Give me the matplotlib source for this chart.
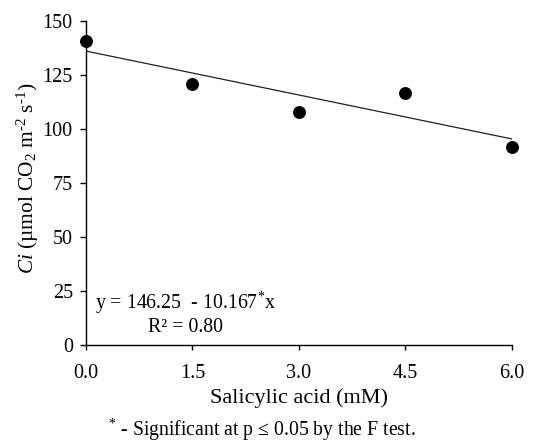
import matplotlib
matplotlib.use("Agg")
import matplotlib.pyplot as plt
import numpy as np

# Salicylic acid doses (mM) and measured internal CO2 concentration
doses = [0.0, 1.5, 3.0, 4.5, 6.0]
ci_values = [140.7, 120.9, 108.0, 116.5, 91.8]

# Linear fit reported against the dose level (1..5)
intercept = 146.25
slope = -10.167
r_squared = 0.80

x_ticks = [0.0, 1.5, 3.0, 4.5, 6.0]
x_tick_labels = ["0.0", "1.5", "3.0", "4.5", "6.0"]
y_ticks = [0, 25, 50, 75, 100, 125, 150]

plt.rcParams["font.family"] = ["Liberation Serif", "DejaVu Serif"]
plt.rcParams["mathtext.fontset"] = "custom"
plt.rcParams["mathtext.rm"] = "Liberation Serif"
plt.rcParams["mathtext.it"] = "Liberation Serif:italic"

fig = plt.figure(figsize=(5.51, 4.44), dpi=100)
ax = fig.add_axes([86 / 551, 1 - 345 / 444, (511.7 - 86) / 551, (345 - 21) / 444])

levels = np.arange(1, len(doses) + 1)
fit = intercept + slope * levels
ax.plot(doses, fit, color="#222222", linewidth=0.9, zorder=2)
ax.plot(doses, ci_values, linestyle="none", marker="o", markersize=8.3,
        color="black", clip_on=False, zorder=3)

ax.set_xlim(0, 6)
ax.set_ylim(0, 150)
ax.set_xticks(x_ticks)
ax.set_xticklabels(x_tick_labels)
ax.set_yticks(y_ticks)

for side in ("top", "right"):
    ax.spines[side].set_visible(False)
for side in ("left", "bottom"):
    ax.spines[side].set_linewidth(1.0)

ax.tick_params(axis="y", direction="out", length=4.5, width=1.0, pad=5,
               labelsize=14.5)
ax.tick_params(axis="x", direction="out", length=3.5, width=1.0, pad=10,
               labelsize=14.5)

ax.set_xlabel("Salicylic acid (mM)", fontsize=16, labelpad=4)
ax.set_ylabel(r"$\mathit{Ci}$ (µmol CO$_2$ m$^{\text{-}2}$ s$^{\text{-}1}$)",
              fontsize=15.4)
ax.yaxis.set_label_coords(-0.106, 0.515)

ax.text(0.12, 19.4, r"y = 146.25  - 10.167$^{*}$x", fontsize=14.3,
        ha="left", va="center")
ax.text(0.87, 8.3, "R² = 0.80", fontsize=14.3, ha="left", va="center")

fig.text(262 / 551, 1 - 430 / 444,
         r"$^{*}$ - Significant at p ≤ 0.05 by the F test.",
         fontsize=14.2, ha="center", va="center")

fig.savefig("out.png", dpi=100)
